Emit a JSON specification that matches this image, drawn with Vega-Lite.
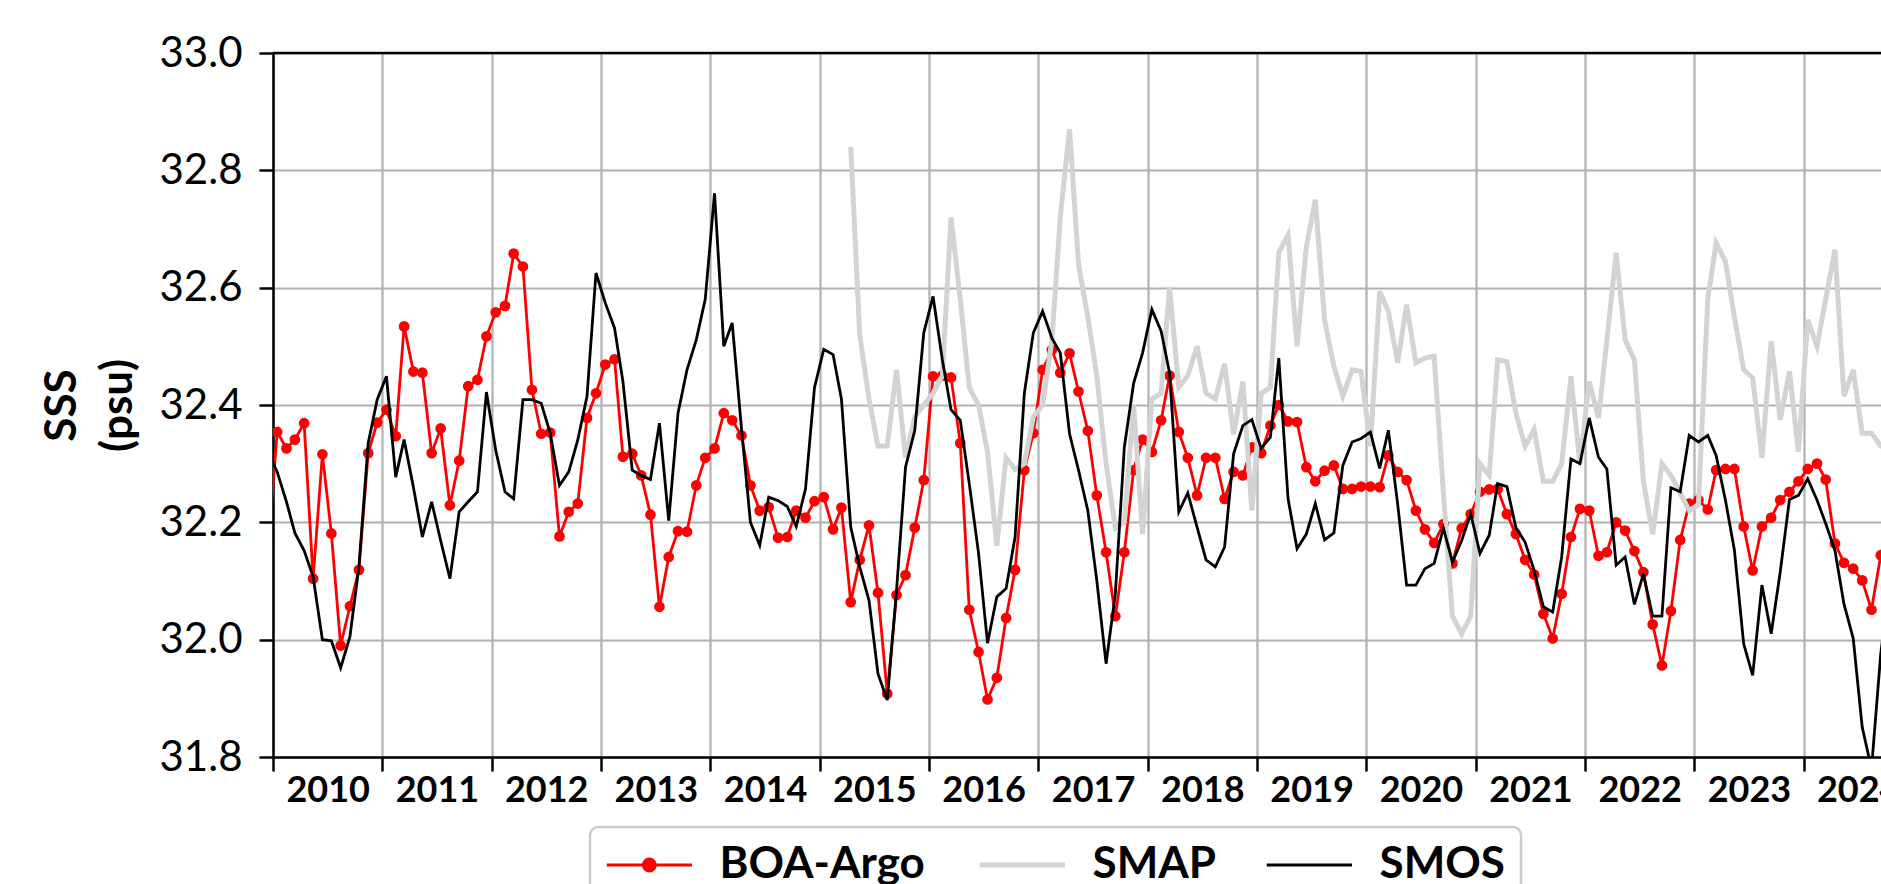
{
  "$schema": "https://vega.github.io/schema/vega-lite/v6.json",
  "width": 1608,
  "height": 704,
  "autosize": {"type": "none"},
  "padding": {"left": 273, "top": 53, "right": 0, "bottom": 127},
  "background": "white",
  "config": {
    "view": {"stroke": null},
    "font": "Lato",
    "axis": {"labelFont": "Lato", "titleFont": "Lato", "labelColor": "black", "titleColor": "black",
      "domainColor": "black", "domainWidth": 2.5, "tickColor": "black", "tickWidth": 2.5, "tickSize": 14,
      "gridColor": "#b0b0b0", "gridWidth": 2.2, "gridOpacity": 1}
  },
  "datasets": {
    "boa": [
      {"d":"2009-12-15","v":32.15},
      {"d":"2010-01-15","v":32.354},{"d":"2010-02-15","v":32.326},{"d":"2010-03-15","v":32.341},{"d":"2010-04-15","v":32.369},{"d":"2010-05-15","v":32.104},{"d":"2010-06-15","v":32.316},{"d":"2010-07-15","v":32.181},{"d":"2010-08-15","v":31.99},{"d":"2010-09-15","v":32.057},{"d":"2010-10-15","v":32.119},{"d":"2010-11-15","v":32.318},{"d":"2010-12-15","v":32.37},
      {"d":"2011-01-15","v":32.392},{"d":"2011-02-15","v":32.347},{"d":"2011-03-15","v":32.534},{"d":"2011-04-15","v":32.457},{"d":"2011-05-15","v":32.455},{"d":"2011-06-15","v":32.318},{"d":"2011-07-15","v":32.36},{"d":"2011-08-15","v":32.229},{"d":"2011-09-15","v":32.305},{"d":"2011-10-15","v":32.432},{"d":"2011-11-15","v":32.443},{"d":"2011-12-15","v":32.517},
      {"d":"2012-01-15","v":32.558},{"d":"2012-02-15","v":32.569},{"d":"2012-03-15","v":32.658},{"d":"2012-04-15","v":32.636},{"d":"2012-05-15","v":32.426},{"d":"2012-06-15","v":32.351},{"d":"2012-07-15","v":32.353},{"d":"2012-08-15","v":32.176},{"d":"2012-09-15","v":32.218},{"d":"2012-10-15","v":32.232},{"d":"2012-11-15","v":32.378},{"d":"2012-12-15","v":32.42},
      {"d":"2013-01-15","v":32.469},{"d":"2013-02-15","v":32.478},{"d":"2013-03-15","v":32.312},{"d":"2013-04-15","v":32.317},{"d":"2013-05-15","v":32.28},{"d":"2013-06-15","v":32.213},{"d":"2013-07-15","v":32.056},{"d":"2013-08-15","v":32.141},{"d":"2013-09-15","v":32.185},{"d":"2013-10-15","v":32.184},{"d":"2013-11-15","v":32.263},{"d":"2013-12-15","v":32.31},
      {"d":"2014-01-15","v":32.326},{"d":"2014-02-15","v":32.386},{"d":"2014-03-15","v":32.374},{"d":"2014-04-15","v":32.348},{"d":"2014-05-15","v":32.263},{"d":"2014-06-15","v":32.22},{"d":"2014-07-15","v":32.226},{"d":"2014-08-15","v":32.174},{"d":"2014-09-15","v":32.175},{"d":"2014-10-15","v":32.22},{"d":"2014-11-15","v":32.208},{"d":"2014-12-15","v":32.236},
      {"d":"2015-01-15","v":32.243},{"d":"2015-02-15","v":32.188},{"d":"2015-03-15","v":32.225},{"d":"2015-04-15","v":32.064},{"d":"2015-05-15","v":32.136},{"d":"2015-06-15","v":32.195},{"d":"2015-07-15","v":32.08},{"d":"2015-08-15","v":31.908},{"d":"2015-09-15","v":32.076},{"d":"2015-10-15","v":32.11},{"d":"2015-11-15","v":32.191},{"d":"2015-12-15","v":32.272},
      {"d":"2016-01-15","v":32.449},{"d":"2016-02-15","v":32.45},{"d":"2016-03-15","v":32.447},{"d":"2016-04-15","v":32.335},{"d":"2016-05-15","v":32.051},{"d":"2016-06-15","v":31.979},{"d":"2016-07-15","v":31.898},{"d":"2016-08-15","v":31.935},{"d":"2016-09-15","v":32.037},{"d":"2016-10-15","v":32.119},{"d":"2016-11-15","v":32.289},{"d":"2016-12-15","v":32.352},
      {"d":"2017-01-15","v":32.46},{"d":"2017-02-15","v":32.494},{"d":"2017-03-15","v":32.455},{"d":"2017-04-15","v":32.488},{"d":"2017-05-15","v":32.423},{"d":"2017-06-15","v":32.356},{"d":"2017-07-15","v":32.246},{"d":"2017-08-15","v":32.149},{"d":"2017-09-15","v":32.04},{"d":"2017-10-15","v":32.149},{"d":"2017-11-15","v":32.289},{"d":"2017-12-15","v":32.341},
      {"d":"2018-01-15","v":32.32},{"d":"2018-02-15","v":32.374},{"d":"2018-03-15","v":32.45},{"d":"2018-04-15","v":32.354},{"d":"2018-05-15","v":32.31},{"d":"2018-06-15","v":32.246},{"d":"2018-07-15","v":32.31},{"d":"2018-08-15","v":32.31},{"d":"2018-09-15","v":32.24},{"d":"2018-10-15","v":32.286},{"d":"2018-11-15","v":32.28},{"d":"2018-12-15","v":32.328},
      {"d":"2019-01-15","v":32.318},{"d":"2019-02-15","v":32.365},{"d":"2019-03-15","v":32.4},{"d":"2019-04-15","v":32.372},{"d":"2019-05-15","v":32.371},{"d":"2019-06-15","v":32.294},{"d":"2019-07-15","v":32.27},{"d":"2019-08-15","v":32.288},{"d":"2019-09-15","v":32.297},{"d":"2019-10-15","v":32.257},{"d":"2019-11-15","v":32.257},{"d":"2019-12-15","v":32.261},
      {"d":"2020-01-15","v":32.261},{"d":"2020-02-15","v":32.26},{"d":"2020-03-15","v":32.314},{"d":"2020-04-15","v":32.286},{"d":"2020-05-15","v":32.272},{"d":"2020-06-15","v":32.22},{"d":"2020-07-15","v":32.188},{"d":"2020-08-15","v":32.165},{"d":"2020-09-15","v":32.197},{"d":"2020-10-15","v":32.13},{"d":"2020-11-15","v":32.19},{"d":"2020-12-15","v":32.214},
      {"d":"2021-01-15","v":32.252},{"d":"2021-02-15","v":32.256},{"d":"2021-03-15","v":32.257},{"d":"2021-04-15","v":32.214},{"d":"2021-05-15","v":32.18},{"d":"2021-06-15","v":32.136},{"d":"2021-07-15","v":32.111},{"d":"2021-08-15","v":32.044},{"d":"2021-09-15","v":32.002},{"d":"2021-10-15","v":32.078},{"d":"2021-11-15","v":32.175},{"d":"2021-12-15","v":32.223},
      {"d":"2022-01-15","v":32.22},{"d":"2022-02-15","v":32.143},{"d":"2022-03-15","v":32.149},{"d":"2022-04-15","v":32.2},{"d":"2022-05-15","v":32.186},{"d":"2022-06-15","v":32.151},{"d":"2022-07-15","v":32.115},{"d":"2022-08-15","v":32.026},{"d":"2022-09-15","v":31.956},{"d":"2022-10-15","v":32.049},{"d":"2022-11-15","v":32.17},{"d":"2022-12-15","v":32.232},
      {"d":"2023-01-15","v":32.238},{"d":"2023-02-15","v":32.222},{"d":"2023-03-15","v":32.289},{"d":"2023-04-15","v":32.291},{"d":"2023-05-15","v":32.291},{"d":"2023-06-15","v":32.193},{"d":"2023-07-15","v":32.118},{"d":"2023-08-15","v":32.193},{"d":"2023-09-15","v":32.208},{"d":"2023-10-15","v":32.238},{"d":"2023-11-15","v":32.252},{"d":"2023-12-15","v":32.27},
      {"d":"2024-01-15","v":32.291},{"d":"2024-02-15","v":32.3},{"d":"2024-03-15","v":32.273},{"d":"2024-04-15","v":32.164},{"d":"2024-05-15","v":32.131},{"d":"2024-06-15","v":32.121},{"d":"2024-07-15","v":32.101},{"d":"2024-08-15","v":32.051},{"d":"2024-09-15","v":32.144},{"d":"2024-10-15","v":32.2}
    ],
    "smap": [
      {"d":"2015-04-15","v":32.84},{"d":"2015-05-15","v":32.52},{"d":"2015-06-15","v":32.41},{"d":"2015-07-15","v":32.33},{"d":"2015-08-15","v":32.33},{"d":"2015-09-15","v":32.46},{"d":"2015-10-15","v":32.31},{"d":"2015-11-15","v":32.38},{"d":"2015-12-15","v":32.4},
      {"d":"2016-01-15","v":32.42},{"d":"2016-02-15","v":32.45},{"d":"2016-03-15","v":32.72},{"d":"2016-04-15","v":32.58},{"d":"2016-05-15","v":32.43},{"d":"2016-06-15","v":32.4},{"d":"2016-07-15","v":32.32},{"d":"2016-08-15","v":32.16},{"d":"2016-09-15","v":32.31},{"d":"2016-10-15","v":32.29},{"d":"2016-11-15","v":32.3},{"d":"2016-12-15","v":32.38},
      {"d":"2017-01-15","v":32.4},{"d":"2017-02-15","v":32.51},{"d":"2017-03-15","v":32.72},{"d":"2017-04-15","v":32.87},{"d":"2017-05-15","v":32.64},{"d":"2017-06-15","v":32.55},{"d":"2017-07-15","v":32.45},{"d":"2017-08-15","v":32.3},{"d":"2017-09-15","v":32.19},{"d":"2017-10-15","v":32.2},{"d":"2017-11-15","v":32.4},{"d":"2017-12-15","v":32.18},
      {"d":"2018-01-15","v":32.41},{"d":"2018-02-15","v":32.42},{"d":"2018-03-15","v":32.6},{"d":"2018-04-15","v":32.43},{"d":"2018-05-15","v":32.45},{"d":"2018-06-15","v":32.5},{"d":"2018-07-15","v":32.42},{"d":"2018-08-15","v":32.41},{"d":"2018-09-15","v":32.47},{"d":"2018-10-15","v":32.35},{"d":"2018-11-15","v":32.44},{"d":"2018-12-15","v":32.22},
      {"d":"2019-01-15","v":32.42},{"d":"2019-02-15","v":32.43},{"d":"2019-03-15","v":32.66},{"d":"2019-04-15","v":32.69},{"d":"2019-05-15","v":32.5},{"d":"2019-06-15","v":32.67},{"d":"2019-07-15","v":32.75},{"d":"2019-08-15","v":32.545},{"d":"2019-09-15","v":32.466},{"d":"2019-10-15","v":32.415},{"d":"2019-11-15","v":32.46},{"d":"2019-12-15","v":32.457},
      {"d":"2020-01-15","v":32.33},{"d":"2020-02-15","v":32.594},{"d":"2020-03-15","v":32.56},{"d":"2020-04-15","v":32.472},{"d":"2020-05-15","v":32.571},{"d":"2020-06-15","v":32.472},{"d":"2020-07-15","v":32.48},{"d":"2020-08-15","v":32.483},{"d":"2020-09-15","v":32.25},{"d":"2020-10-15","v":32.04},{"d":"2020-11-15","v":32.01},{"d":"2020-12-15","v":32.04},
      {"d":"2021-01-15","v":32.3},{"d":"2021-02-15","v":32.28},{"d":"2021-03-15","v":32.477},{"d":"2021-04-15","v":32.474},{"d":"2021-05-15","v":32.386},{"d":"2021-06-15","v":32.33},{"d":"2021-07-15","v":32.358},{"d":"2021-08-15","v":32.27},{"d":"2021-09-15","v":32.27},{"d":"2021-10-15","v":32.3},{"d":"2021-11-15","v":32.449},{"d":"2021-12-15","v":32.3},
      {"d":"2022-01-15","v":32.44},{"d":"2022-02-15","v":32.378},{"d":"2022-03-15","v":32.51},{"d":"2022-04-15","v":32.659},{"d":"2022-05-15","v":32.511},{"d":"2022-06-15","v":32.477},{"d":"2022-07-15","v":32.27},{"d":"2022-08-15","v":32.18},{"d":"2022-09-15","v":32.3},{"d":"2022-10-15","v":32.28},{"d":"2022-11-15","v":32.25},{"d":"2022-12-15","v":32.22},
      {"d":"2023-01-15","v":32.23},{"d":"2023-02-15","v":32.58},{"d":"2023-03-15","v":32.676},{"d":"2023-04-15","v":32.645},{"d":"2023-05-15","v":32.55},{"d":"2023-06-15","v":32.46},{"d":"2023-07-15","v":32.446},{"d":"2023-08-15","v":32.31},{"d":"2023-09-15","v":32.509},{"d":"2023-10-15","v":32.375},{"d":"2023-11-15","v":32.457},{"d":"2023-12-15","v":32.32},
      {"d":"2024-01-15","v":32.545},{"d":"2024-02-15","v":32.5},{"d":"2024-03-15","v":32.58},{"d":"2024-04-15","v":32.665},{"d":"2024-05-15","v":32.415},{"d":"2024-06-15","v":32.46},{"d":"2024-07-15","v":32.352},{"d":"2024-08-15","v":32.352},{"d":"2024-09-15","v":32.33},{"d":"2024-10-15","v":32.33}
    ],
    "smos": [
      {"d":"2009-12-15","v":32.32},
      {"d":"2010-01-15","v":32.286},{"d":"2010-02-15","v":32.235},{"d":"2010-03-15","v":32.182},{"d":"2010-04-15","v":32.152},{"d":"2010-05-15","v":32.107},{"d":"2010-06-15","v":32.0},{"d":"2010-07-15","v":31.998},{"d":"2010-08-15","v":31.952},{"d":"2010-09-15","v":32.005},{"d":"2010-10-15","v":32.124},{"d":"2010-11-15","v":32.335},{"d":"2010-12-15","v":32.409},
      {"d":"2011-01-15","v":32.449},{"d":"2011-02-15","v":32.277},{"d":"2011-03-15","v":32.341},{"d":"2011-04-15","v":32.26},{"d":"2011-05-15","v":32.175},{"d":"2011-06-15","v":32.235},{"d":"2011-07-15","v":32.169},{"d":"2011-08-15","v":32.104},{"d":"2011-09-15","v":32.218},{"d":"2011-10-15","v":32.235},{"d":"2011-11-15","v":32.252},{"d":"2011-12-15","v":32.422},
      {"d":"2012-01-15","v":32.323},{"d":"2012-02-15","v":32.252},{"d":"2012-03-15","v":32.24},{"d":"2012-04-15","v":32.409},{"d":"2012-05-15","v":32.409},{"d":"2012-06-15","v":32.403},{"d":"2012-07-15","v":32.352},{"d":"2012-08-15","v":32.263},{"d":"2012-09-15","v":32.286},{"d":"2012-10-15","v":32.34},{"d":"2012-11-15","v":32.415},{"d":"2012-12-15","v":32.625},
      {"d":"2013-01-15","v":32.574},{"d":"2013-02-15","v":32.531},{"d":"2013-03-15","v":32.44},{"d":"2013-04-15","v":32.289},{"d":"2013-05-15","v":32.28},{"d":"2013-06-15","v":32.273},{"d":"2013-07-15","v":32.369},{"d":"2013-08-15","v":32.203},{"d":"2013-09-15","v":32.386},{"d":"2013-10-15","v":32.46},{"d":"2013-11-15","v":32.511},{"d":"2013-12-15","v":32.58},
      {"d":"2014-01-15","v":32.761},{"d":"2014-02-15","v":32.5},{"d":"2014-03-15","v":32.54},{"d":"2014-04-15","v":32.36},{"d":"2014-05-15","v":32.2},{"d":"2014-06-15","v":32.161},{"d":"2014-07-15","v":32.243},{"d":"2014-08-15","v":32.237},{"d":"2014-09-15","v":32.227},{"d":"2014-10-15","v":32.193},{"d":"2014-11-15","v":32.257},{"d":"2014-12-15","v":32.43},
      {"d":"2015-01-15","v":32.495},{"d":"2015-02-15","v":32.486},{"d":"2015-03-15","v":32.41},{"d":"2015-04-15","v":32.192},{"d":"2015-05-15","v":32.124},{"d":"2015-06-15","v":32.067},{"d":"2015-07-15","v":31.942},{"d":"2015-08-15","v":31.897},{"d":"2015-09-15","v":32.084},{"d":"2015-10-15","v":32.294},{"d":"2015-11-15","v":32.357},{"d":"2015-12-15","v":32.523},
      {"d":"2016-01-15","v":32.585},{"d":"2016-02-15","v":32.477},{"d":"2016-03-15","v":32.392},{"d":"2016-04-15","v":32.374},{"d":"2016-05-15","v":32.266},{"d":"2016-06-15","v":32.147},{"d":"2016-07-15","v":31.994},{"d":"2016-08-15","v":32.073},{"d":"2016-09-15","v":32.087},{"d":"2016-10-15","v":32.175},{"d":"2016-11-15","v":32.42},{"d":"2016-12-15","v":32.523},
      {"d":"2017-01-15","v":32.56},{"d":"2017-02-15","v":32.514},{"d":"2017-03-15","v":32.489},{"d":"2017-04-15","v":32.351},{"d":"2017-05-15","v":32.289},{"d":"2017-06-15","v":32.22},{"d":"2017-07-15","v":32.101},{"d":"2017-08-15","v":31.959},{"d":"2017-09-15","v":32.078},{"d":"2017-10-15","v":32.328},{"d":"2017-11-15","v":32.437},{"d":"2017-12-15","v":32.489},
      {"d":"2018-01-15","v":32.563},{"d":"2018-02-15","v":32.526},{"d":"2018-03-15","v":32.455},{"d":"2018-04-15","v":32.218},{"d":"2018-05-15","v":32.25},{"d":"2018-06-15","v":32.192},{"d":"2018-07-15","v":32.136},{"d":"2018-08-15","v":32.124},{"d":"2018-09-15","v":32.158},{"d":"2018-10-15","v":32.317},{"d":"2018-11-15","v":32.365},{"d":"2018-12-15","v":32.375},
      {"d":"2019-01-15","v":32.326},{"d":"2019-02-15","v":32.345},{"d":"2019-03-15","v":32.48},{"d":"2019-04-15","v":32.24},{"d":"2019-05-15","v":32.155},{"d":"2019-06-15","v":32.18},{"d":"2019-07-15","v":32.232},{"d":"2019-08-15","v":32.17},{"d":"2019-09-15","v":32.182},{"d":"2019-10-15","v":32.297},{"d":"2019-11-15","v":32.337},{"d":"2019-12-15","v":32.343},
      {"d":"2020-01-15","v":32.354},{"d":"2020-02-15","v":32.292},{"d":"2020-03-15","v":32.357},{"d":"2020-04-15","v":32.232},{"d":"2020-05-15","v":32.093},{"d":"2020-06-15","v":32.093},{"d":"2020-07-15","v":32.121},{"d":"2020-08-15","v":32.13},{"d":"2020-09-15","v":32.19},{"d":"2020-10-15","v":32.132},{"d":"2020-11-15","v":32.169},{"d":"2020-12-15","v":32.215},
      {"d":"2021-01-15","v":32.147},{"d":"2021-02-15","v":32.178},{"d":"2021-03-15","v":32.266},{"d":"2021-04-15","v":32.261},{"d":"2021-05-15","v":32.191},{"d":"2021-06-15","v":32.166},{"d":"2021-07-15","v":32.118},{"d":"2021-08-15","v":32.056},{"d":"2021-09-15","v":32.047},{"d":"2021-10-15","v":32.141},{"d":"2021-11-15","v":32.308},{"d":"2021-12-15","v":32.3},
      {"d":"2022-01-15","v":32.378},{"d":"2022-02-15","v":32.311},{"d":"2022-03-15","v":32.291},{"d":"2022-04-15","v":32.127},{"d":"2022-05-15","v":32.141},{"d":"2022-06-15","v":32.06},{"d":"2022-07-15","v":32.112},{"d":"2022-08-15","v":32.04},{"d":"2022-09-15","v":32.04},{"d":"2022-10-15","v":32.259},{"d":"2022-11-15","v":32.252},{"d":"2022-12-15","v":32.348},
      {"d":"2023-01-15","v":32.337},{"d":"2023-02-15","v":32.348},{"d":"2023-03-15","v":32.314},{"d":"2023-04-15","v":32.238},{"d":"2023-05-15","v":32.153},{"d":"2023-06-15","v":31.993},{"d":"2023-07-15","v":31.939},{"d":"2023-08-15","v":32.093},{"d":"2023-09-15","v":32.01},{"d":"2023-10-15","v":32.115},{"d":"2023-11-15","v":32.239},{"d":"2023-12-15","v":32.246},
      {"d":"2024-01-15","v":32.274},{"d":"2024-02-15","v":32.238},{"d":"2024-03-15","v":32.198},{"d":"2024-04-15","v":32.152},{"d":"2024-05-15","v":32.061},{"d":"2024-06-15","v":32.002},{"d":"2024-07-15","v":31.851},{"d":"2024-08-15","v":31.78},{"d":"2024-09-15","v":31.976},{"d":"2024-10-15","v":32.1}
    ]
  },
  "layer": [
    {
      "data": {"name": "boa"},
      "mark": {"type": "line", "strokeWidth": 2.8, "clip": true},
      "encoding": {
        "x": {"field": "d", "type": "temporal",
          "scale": {"type": "utc", "domain": [{"year": 2010, "month": 1, "date": 1, "utc": true}, {"year": 2024, "month": 9, "date": 15, "hours": 19, "utc": true}]},
          "axis": {"title": null, "format": "%Y", "formatType": "utc",
            "values": [{"year":2010,"month":1,"date":1,"utc":true},{"year":2011,"month":1,"date":1,"utc":true},{"year":2012,"month":1,"date":1,"utc":true},{"year":2013,"month":1,"date":1,"utc":true},{"year":2014,"month":1,"date":1,"utc":true},{"year":2015,"month":1,"date":1,"utc":true},{"year":2016,"month":1,"date":1,"utc":true},{"year":2017,"month":1,"date":1,"utc":true},{"year":2018,"month":1,"date":1,"utc":true},{"year":2019,"month":1,"date":1,"utc":true},{"year":2020,"month":1,"date":1,"utc":true},{"year":2021,"month":1,"date":1,"utc":true},{"year":2022,"month":1,"date":1,"utc":true},{"year":2023,"month":1,"date":1,"utc":true},{"year":2024,"month":1,"date":1,"utc":true}],
            "labelFontSize": 36, "labelFontWeight": "bold", "labelOffset": 54.7, "labelAlign": "center", "labelBaseline": "top",
            "labelPadding": 2, "labelFlush": false, "labelOverlap": false, "labelBound": false, "grid": true}},
        "y": {"field": "v", "type": "quantitative",
          "scale": {"domain": [31.8, 33.0], "zero": false, "nice": false},
          "axis": {"values": [31.8, 32.0, 32.2, 32.4, 32.6, 32.8, 33.0], "format": ".1f", "labelFontSize": 42, "labelFontWeight": "normal",
            "labelPadding": 17, "title": ["SSS", "(psu)"], "titleFontSize": 44, "titleFontWeight": "bold", "titleLineHeight": 56, "titlePadding": 19, "grid": true}},
        "color": {"datum": "BOA-Argo", "type": "nominal",
          "scale": {"domain": ["BOA-Argo", "SMAP", "SMOS"], "range": ["#ff0000", "#d3d3d3", "#000000"]},
          "legend": {"orient": "none", "legendX": 317, "legendY": 774, "direction": "horizontal", "title": null,
            "labelFont": "Lato", "labelFontSize": 44, "labelFontWeight": "bold", "labelColor": "black", "labelLimit": 600,
            "labelOffset": 83, "symbolOffset": -13.5, "symbolSize": 240, "columnPadding": 44, "padding": 16,
            "strokeColor": "#cccccc", "fillColor": "white", "cornerRadius": 8,
            "encode": {
              "symbols": {"update": {
                "shape": {"signal": "datum.value === 'BOA-Argo' ? 'M-1,0L10,0M5.28,0A0.78,0.78,0,1,1,3.72,0A0.78,0.78,0,1,1,5.28,0Z' : 'M-1,0L10,0'"},
                "strokeWidth": {"signal": "datum.value === 'SMAP' ? 5 : 2.8"},
                "fill": {"signal": "datum.value === 'BOA-Argo' ? '#ff0000' : 'transparent'"},
                "fillOpacity": {"value": 1}
              }},
              "legend": {"update": {"strokeWidth": {"value": 2.5}}}
            }}
        }
      }
    },
    {
      "data": {"name": "boa"},
      "mark": {"type": "point", "filled": true, "size": 115, "opacity": 1, "clip": true, "color": "#ff0000"},
      "encoding": {
        "x": {"field": "d", "type": "temporal"},
        "y": {"field": "v", "type": "quantitative"}
      }
    },
    {
      "data": {"name": "smap"},
      "mark": {"type": "line", "strokeWidth": 5, "clip": true},
      "encoding": {
        "x": {"field": "d", "type": "temporal"},
        "y": {"field": "v", "type": "quantitative"},
        "color": {"datum": "SMAP", "type": "nominal"}
      }
    },
    {
      "data": {"name": "smos"},
      "mark": {"type": "line", "strokeWidth": 2.8, "clip": true},
      "encoding": {
        "x": {"field": "d", "type": "temporal"},
        "y": {"field": "v", "type": "quantitative"},
        "color": {"datum": "SMOS", "type": "nominal"}
      }
    },
    {
      "data": {"values": [{}]},
      "mark": {"type": "rule", "color": "black", "strokeWidth": 2.5},
      "encoding": {"y": {"datum": 33.0, "type": "quantitative"}}
    }
  ]
}
